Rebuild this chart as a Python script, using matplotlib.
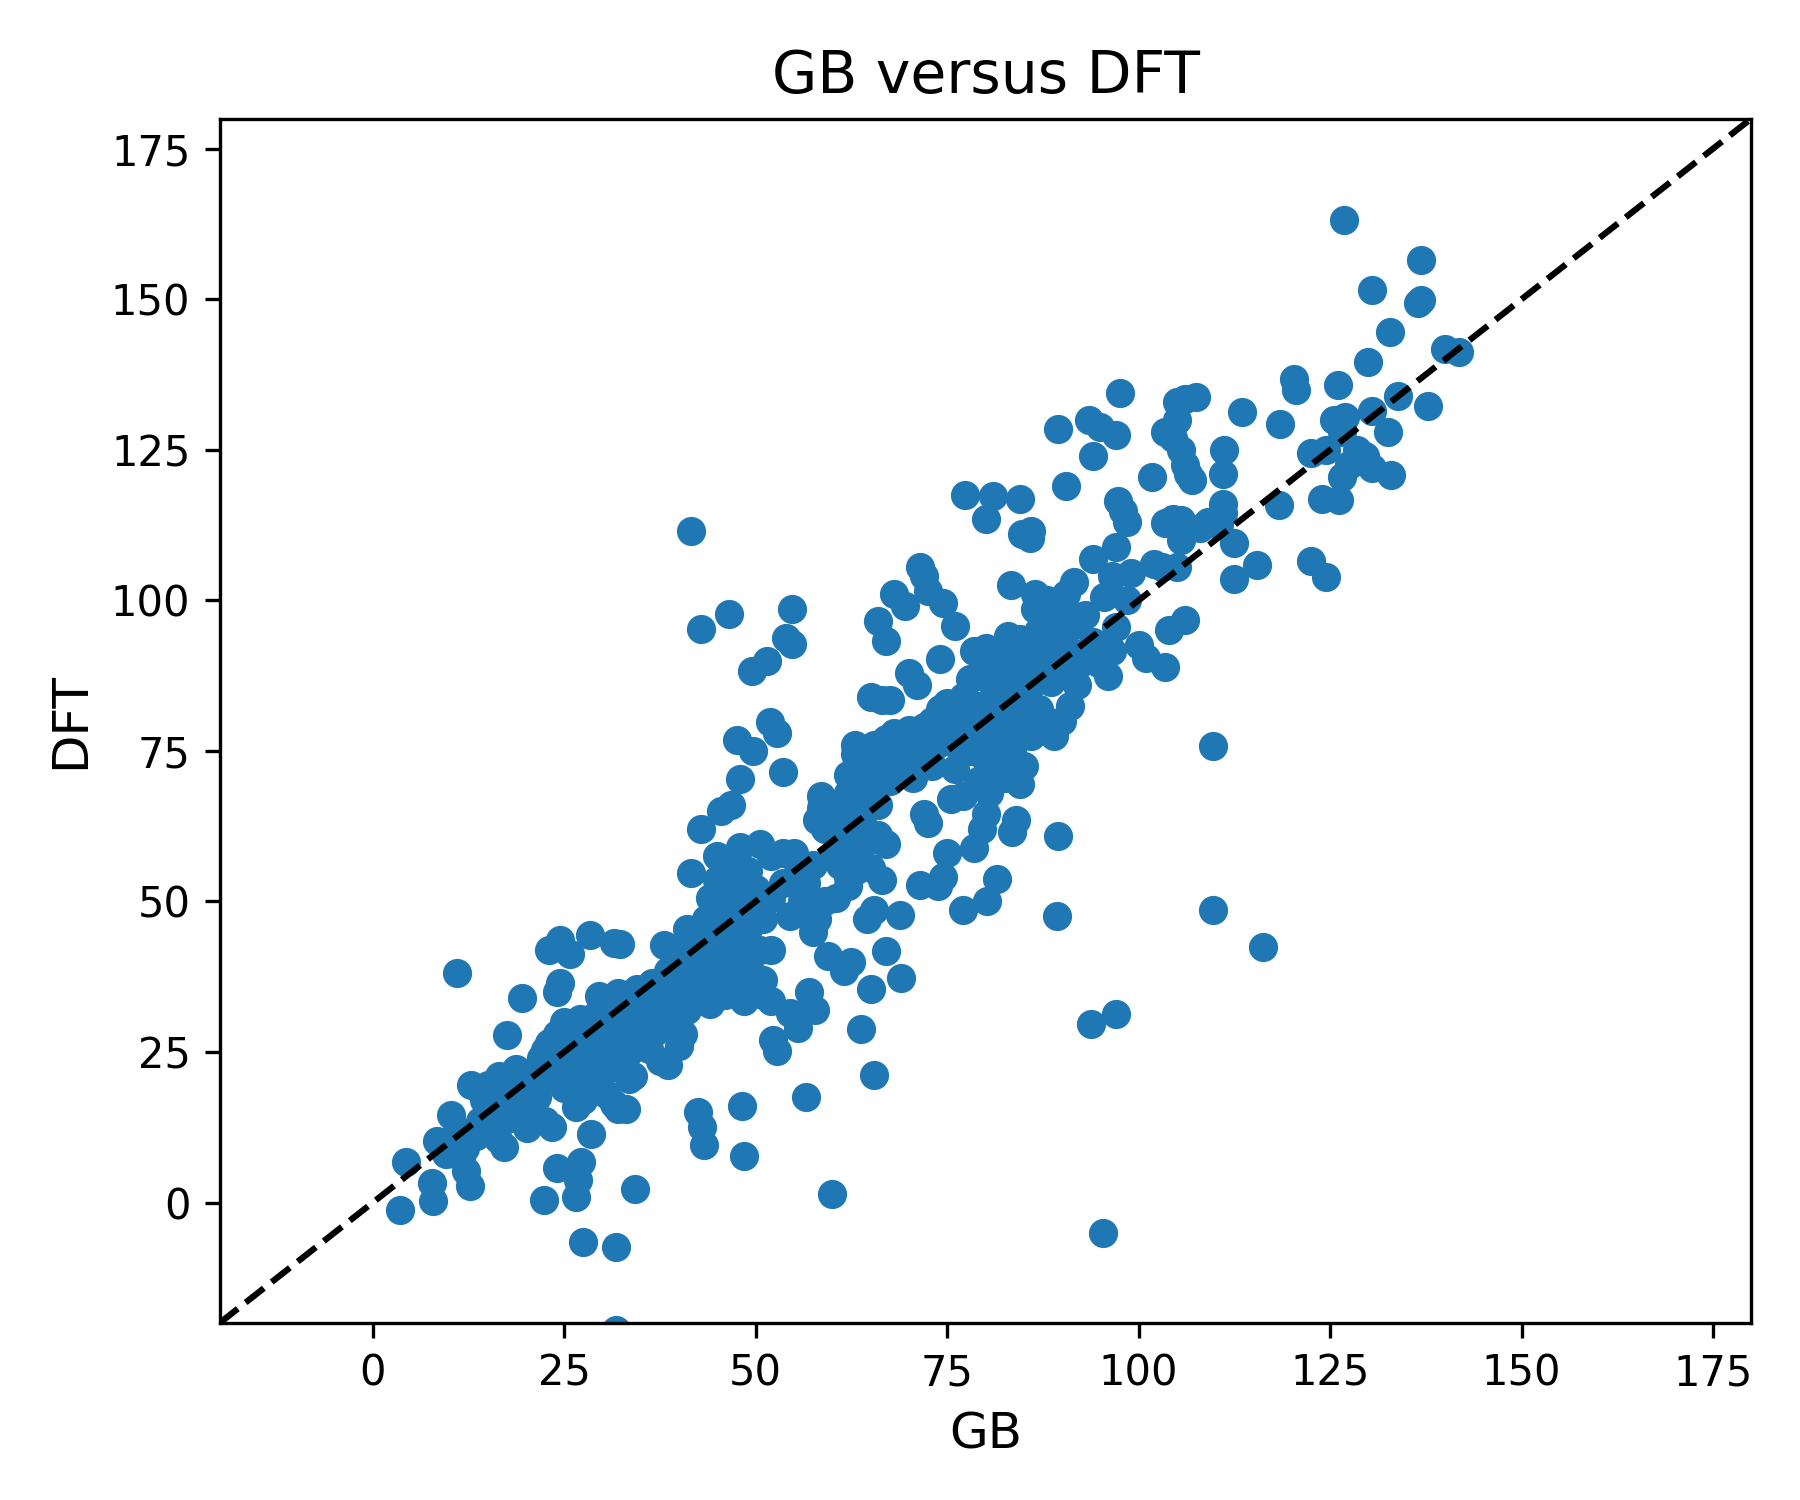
import numpy as np
import matplotlib
matplotlib.use("Agg")
import matplotlib.pyplot as plt

# --- data (GB prediction vs DFT value) ---
gb_low = [3.5, 7.8, 7.7, 4.4, 8.4, 10.2, 11.0, 12.7, 12.2, 11.5, 12.0, 13.5, 12.8, 14.5, 15.0,
          16.5, 17.1, 16.3, 17.5, 18.7, 19.5, 20.2, 21.0, 22.3, 22.5, 23.4, 22.5, 23.0, 24.5, 25.8,
          24.0, 26.5, 26.8, 27.2, 27.5, 28.5, 28.3, 31.5, 32.3, 31.8, 31.8, 34.2, 24.0, 24.5, 24.0,
          25.0, 25.5, 26.5, 27.5, 28.5, 29.0, 30.0, 30.5, 31.5, 32.0, 33.0, 33.5, 34.0, 29.5, 30.5,
          31.0, 32.0, 33.0, 34.5, 35.0, 36.5, 37.5, 38.5, 38.0, 39.0, 40.0, 40.5, 41.0, 42.0, 42.5,
          43.0, 43.2, 42.0, 43.5, 44.0, 9.5, 10.5, 11.0,
          35.5, 36.5, 37.5, 38.5, 39.5, 40.5, 41.0, 39.0, 37.0, 36.0, 33.5, 31.5, 29.5, 27.5, 26.0,
          25.0, 27.0, 23.5, 21.5, 20.0, 18.0, 15.5, 14.0, 16.0, 19.0, 22.0,
          28.0, 29.0, 30.0, 31.0, 32.5, 34.0, 26.0, 27.0, 23.0, 22.0, 20.5, 17.0, 36.0, 38.5, 40.0,
          42.0, 44.5, 46.5, 47.5, 45.5, 48.0, 50.0]
dft_low = [-1.2, 0.2, 3.3, 6.8, 10.3, 14.5, 38.1, 2.8, 5.3, 7.5, 9.0, 11.0, 19.6, 17.0, 19.5,
           21.0, 9.2, 10.5, 27.9, 22.2, 34.0, 12.4, 14.5, 0.4, 13.5, 12.6, 25.4, 42.0, 43.6, 41.3,
           5.8, 1.0, 3.8, 6.8, -6.5, 11.3, 44.5, 43.1, 43.0, -7.3, -21.2, 2.2, 35.0, 36.5, 28.0,
           30.0, 21.0, 15.8, 17.0, 22.0, 19.5, 24.0, 18.0, 16.3, 15.5, 15.6, 20.5, 21.0, 34.3, 33.0,
           30.0, 34.8, 29.0, 35.5, 28.0, 36.5, 23.5, 22.8, 42.8, 42.0, 26.0, 28.0, 45.5, 44.5, 15.0,
           12.5, 9.5, 35.0, 47.0, 33.0, 8.0, 10.0, 12.0,
           30.0, 32.5, 34.5, 36.0, 37.5, 38.0, 32.0, 30.0, 28.5, 25.5, 25.0, 22.5, 27.0, 25.0, 24.0,
           19.0, 20.0, 22.0, 17.5, 16.0, 14.0, 14.0, 13.5, 16.5, 19.5, 20.5,
           29.5, 31.0, 28.0, 26.5, 27.5, 31.5, 27.0, 30.5, 26.5, 24.0, 21.0, 18.0, 34.0, 38.5, 40.5,
           38.0, 43.0, 40.5, 44.5, 49.5, 48.5, 49.0]

gb_mid = [41.6, 42.8, 46.5, 49.5, 51.5, 54.8, 54.0, 54.8, 47.5, 49.7, 51.8, 52.8, 53.5, 48.0,
          45.5, 46.8, 42.8, 41.5, 45.0, 48.0, 50.5, 52.0, 53.5, 55.0, 47.0, 48.5, 50.0, 46.0, 44.5,
          47.0, 49.0, 50.5, 52.0, 48.0, 49.5, 51.0, 45.5, 47.0, 46.0, 48.5, 51.0, 52.0, 48.2, 48.5,
          52.2, 52.8, 54.5, 55.5, 56.5, 57.0, 57.8, 59.5, 61.5, 62.5, 63.8, 65.0, 65.5, 67.0, 69.0,
          68.8, 60.0, 54.5, 56.0, 57.5, 58.0, 59.0, 60.5, 62.0, 63.0, 64.5, 65.5, 66.5, 67.0, 62.5,
          61.0, 60.5, 59.0, 58.0, 58.5, 60.0, 61.0, 62.0, 63.0, 63.0, 64.5, 65.0, 66.5, 67.5, 66.0,
          67.0, 68.0, 69.5, 71.5, 72.0, 72.5, 74.5, 76.0, 74.0, 70.0, 71.0, 65.0, 66.0, 67.0, 68.0,
          69.0, 70.0, 71.0, 72.0, 73.0, 74.0, 75.0, 76.0, 68.5, 70.5, 66.0, 64.0, 63.0, 71.5, 73.8,
          74.5, 75.0, 77.0, 80.2, 81.5, 78.5, 79.5, 80.0, 75.5, 72.0, 72.5, 77.0,
          44.0, 45.0, 43.0, 42.0, 44.5, 42.5, 40.5, 38.0, 46.0, 47.5, 49.5, 51.0, 52.0, 53.5, 55.5,
          56.5, 57.5, 49.0, 47.5, 44.0, 45.0,
          58.5, 59.5, 61.5, 62.5, 63.5, 64.5, 62.0, 64.0, 65.5, 66.0, 64.5, 63.5, 65.0, 62.0, 60.5,
          67.5, 69.0, 73.5, 74.5, 75.5, 77.0, 73.0, 71.5, 68.5]
dft_mid = [111.5, 95.3, 97.8, 88.2, 90.0, 98.6, 93.8, 92.7, 76.8, 75.0, 79.8, 78.0, 71.5, 70.3,
           65.0, 66.0, 62.0, 54.7, 57.5, 59.0, 59.5, 57.5, 58.0, 58.0, 53.0, 50.0, 52.0, 48.0, 45.0,
           43.0, 45.5, 42.0, 42.0, 40.0, 38.0, 37.0, 38.0, 36.0, 34.5, 33.5, 34.5, 33.5, 16.0, 7.7,
           27.0, 25.2, 31.5, 29.0, 17.5, 35.0, 32.0, 41.0, 38.5, 40.0, 28.8, 35.5, 21.2, 41.8, 37.3,
           47.7, 1.5, 47.5, 50.0, 45.0, 47.0, 50.0, 50.5, 52.5, 55.0, 47.0, 48.5, 53.5, 59.5, 58.0,
           56.0, 61.0, 62.0, 63.5, 67.5, 66.0, 64.0, 68.0, 76.0, 74.5, 72.0, 84.0, 83.5, 83.5, 96.5,
           93.2, 101.0, 99.0, 105.5, 104.0, 101.5, 99.5, 95.8, 90.2, 88.0, 86.0, 70.0, 74.0, 77.0, 78.0,
           75.5, 78.5, 74.0, 79.0, 80.0, 82.0, 83.0, 81.0, 71.0, 70.5, 66.0, 64.5, 62.0, 52.7, 52.5,
           54.0, 58.0, 48.5, 50.0, 53.8, 58.8, 62.0, 64.5, 67.0, 64.5, 63.0, 67.5,
           40.0, 42.0, 38.5, 41.0, 36.0, 33.5, 34.0, 32.0, 46.0, 47.0, 47.5, 47.0, 50.5, 53.0, 55.0,
           53.0, 56.0, 55.0, 56.0, 50.5, 53.5,
           65.5, 64.0, 66.5, 65.0, 68.5, 69.0, 71.0, 73.5, 76.0, 61.0, 60.0, 57.5, 55.5, 54.0, 57.5,
           70.0, 72.5, 76.0, 78.5, 76.5, 78.5, 72.5, 77.0, 76.5]

gb_high = [77.3, 80.0, 81.0, 84.5, 84.8, 86.0, 85.8, 83.3, 86.5, 88.0, 89.5, 90.5, 91.5, 92.0,
           93.0, 94.0, 95.5, 96.5, 97.0, 98.5, 99.0, 100.0, 101.0, 102.0, 103.0, 103.5, 104.0, 105.0,
           105.5, 106.0, 89.5, 93.5, 95.0, 97.0, 97.5, 94.0, 90.5, 97.3, 98.0, 98.5, 97.0, 101.8,
           103.5, 104.5, 105.5, 103.5, 104.5, 105.0, 106.0, 107.5, 105.0, 105.5, 106.0, 106.5, 107.0,
           108.0, 109.0, 110.5, 111.0, 111.2, 111.0, 111.0, 112.5, 112.5, 113.5, 115.5, 118.3, 118.5,
           120.3, 120.5, 122.5, 122.5, 124.5, 124.0, 124.5, 125.5, 126.5, 127.0, 126.0, 126.2, 126.5,
           127.5, 128.5, 129.5, 130.5, 130.5, 132.5, 133.0, 133.8, 130.0, 132.8, 130.5, 126.8, 136.8,
           136.8, 136.5, 137.8, 140.0, 141.8, 109.7, 109.7, 116.2, 93.8, 97.0, 95.4, 89.3, 89.5,
           83.5, 84.0, 82.5, 84.5, 85.0, 80.0, 81.0, 82.0, 83.0, 84.0, 85.0, 86.0, 87.0, 88.0, 89.0,
           90.0, 88.0, 89.0, 90.0, 91.0, 92.0, 93.0, 94.0, 95.0, 96.0, 96.5, 87.0, 85.0, 83.0, 82.0,
           80.0, 78.5, 78.0, 77.0, 76.0, 78.0, 79.0, 80.5, 76.0, 77.5, 80.0, 81.0, 86.0, 87.0, 88.5,
           90.0, 91.0, 86.0, 84.0,
           79.5, 81.5, 82.5, 83.5, 85.5, 86.5, 87.5, 88.5, 89.5, 90.5, 81.5, 83.5, 84.5, 86.5, 79.0,
           80.5, 82.5, 84.5, 86.5, 88.5]
dft_high = [117.5, 113.5, 117.3, 116.8, 111.0, 111.5, 110.3, 102.5, 101.0, 100.0, 98.0, 101.0,
            103.0, 96.0, 97.5, 106.8, 100.5, 104.0, 95.5, 100.0, 104.5, 92.5, 90.5, 106.0, 105.5,
            89.0, 95.0, 105.5, 110.0, 96.8, 128.5, 130.0, 128.8, 127.5, 134.5, 124.0, 119.0, 116.5,
            114.8, 113.0, 108.8, 120.5, 112.8, 113.5, 113.3, 128.0, 127.0, 133.0, 133.5, 133.8, 130.0,
            125.0, 122.5, 121.0, 120.0, 112.0, 113.0, 112.5, 121.0, 125.0, 116.0, 114.5, 109.5, 103.5,
            131.2, 105.8, 115.8, 129.3, 136.8, 135.0, 124.5, 106.5, 103.8, 116.8, 125.0, 130.0, 128.0,
            130.5, 135.8, 116.6, 120.5, 122.5, 125.0, 124.0, 122.0, 131.5, 128.0, 120.8, 134.0, 139.5,
            144.6, 151.5, 163.2, 156.5, 149.8, 149.3, 132.3, 141.8, 141.2, 75.8, 48.6, 42.5, 29.7,
            31.3, -5.0, 47.6, 60.8, 61.5, 63.5, 70.5, 69.5, 72.5, 73.5, 75.0, 78.0, 80.0, 82.0, 84.0,
            86.0, 88.0, 90.0, 92.0, 94.0, 80.0, 77.5, 80.0, 82.5, 86.0, 90.0, 93.0, 89.5, 87.5, 91.5,
            95.0, 91.0, 94.0, 89.0, 92.0, 91.5, 87.0, 84.0, 78.0, 75.0, 70.0, 68.0, 72.0, 80.0, 82.0,
            86.0, 77.5, 82.0, 86.5, 89.0, 91.5, 93.5, 88.0,
            77.0, 80.5, 83.5, 86.0, 88.5, 90.5, 92.5, 94.5, 96.0, 97.0, 72.0, 75.0, 78.0, 80.0, 82.5,
            88.5, 91.5, 93.5, 98.5, 99.0]

gb = np.array(gb_low + gb_mid + gb_high)
dft = np.array(dft_low + dft_mid + dft_high)

lims = [-20, 180]

fig, ax = plt.subplots(figsize=(6, 5), dpi=300)
fig.subplots_adjust(left=0.122, right=0.973, bottom=0.118, top=0.921)

ax.scatter(gb, dft)
ax.plot(lims, lims, 'k--')
ax.set_xlim(lims)
ax.set_ylim(lims)

ax.set_title("GB versus DFT", fontsize=14)
ax.set_xlabel("GB", fontsize=12)
ax.set_ylabel("DFT", fontsize=12)

fig.savefig("out.png", dpi=300)
